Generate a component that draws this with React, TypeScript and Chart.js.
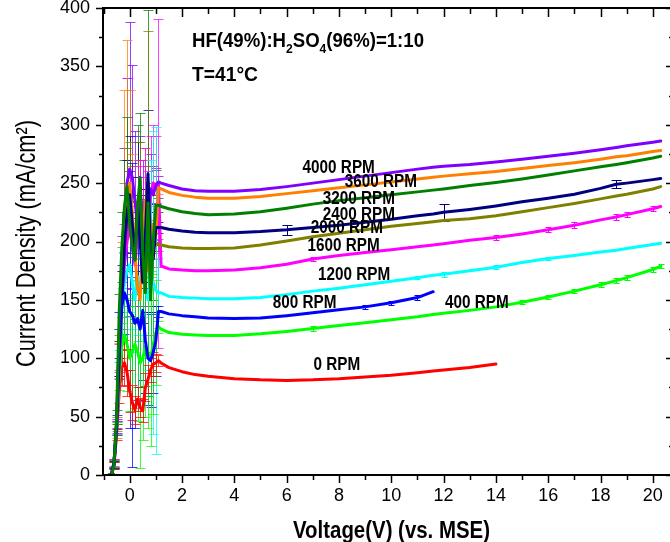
import React, { useEffect, useRef } from "react";
import { Chart, registerables } from "chart.js";

Chart.register(...registerables);

// ---------------- DATA ----------------
const voltage = [
  -0.7, -0.6, -0.5, -0.4, -0.3, -0.2, -0.1, 0, 0.1, 0.2, 0.3, 0.4, 0.5, 0.6, 0.7, 0.8, 0.9, 1.0, 1.1,
  1.2, 1.5, 2, 2.5, 3, 4, 5, 6, 7, 8, 9, 10, 11, 11.6, 12, 13, 14, 15, 16, 17, 18, 18.6, 19, 20, 20.3,
];

const seriesNames = ["4000 RPM", "3600 RPM", "3200 RPM", "2400 RPM", "2000 RPM", "1600 RPM", "1200 RPM", "800 RPM", "400 RPM", "0 RPM"];

const j4000 = [0, 10, 42, 105, 170, 220, 250, 262, 255, 235, 215, 240, 225, 205, 230, 245, 240, 248, 251,
  250, 248, 245, 243.5, 243, 243, 244.5, 247, 250, 253, 256, 259, 262, 263.5, 264.5, 266, 268, 270.5, 273, 275.5, 278.5, 280.5, 282, 285, 286];
const e4000 = [2, 4, 6, 20, 35, 60, 90, 126, 96, 60, 40, 50, 45, 40, 35, 30, 25, 15, 5,
  0, 0, 0, 0, 0, 0, 0, 0, 0, 0, 0, 0, 0, 0, 0, 0, 0, 0, 0, 0, 0, 0, 0, 0, 0];

const j3600 = [0, 9, 38, 98, 160, 215, 240, 250, 225, 190, 160, 150, 200, 235, 175, 200, 215, 205, 246,
  245, 242, 239.5, 238, 237, 237, 238.5, 241, 243.5, 246, 248.5, 251, 253.5, 255, 256, 258, 260, 262.5, 265, 267.5, 270.5, 272.5, 273.5, 277, 278];
const e3600 = [2, 3, 6, 15, 40, 115, 133, 80, 50, 40, 45, 35, 40, 45, 35, 30, 25, 20, 5,
  0, 0, 0, 0, 0, 0, 0, 0, 0, 0, 0, 0, 0, 0, 0, 0, 0, 0, 0, 0, 0, 0, 0, 0, 0];

const j3200 = [0, 8, 50, 140, 195, 230, 247, 215, 195, 184, 230, 255, 190, 156, 233, 150, 200, 231, 231,
  230, 228, 225.5, 224, 223, 223.5, 225.5, 228.5, 232, 235, 237.5, 240, 242.5, 244, 245, 248, 250.5, 253.5, 257, 260.5, 264, 266, 267.5, 271.5, 273];
const e3200 = [2, 3, 6, 15, 30, 40, 60, 45, 40, 50, 70, 55, 45, 80, 165, 60, 50, 30, 6,
  0, 0, 0, 0, 0, 0, 0, 0, 0, 0, 0, 0, 0, 0, 0, 0, 0, 0, 0, 0, 0, 0, 0, 0, 0];

const j2400 = [0, 9, 40, 100, 150, 195, 225, 240, 215, 185, 230, 200, 165, 205, 258, 190, 185, 212, 212,
  212, 210.5, 209, 208, 207.5, 207.5, 208.5, 210, 212, 214, 216.5, 219, 222, 223.5, 225, 227.5, 230.5, 234, 237, 240.5, 245.5, 249, 250, 253, 254];
const e2400 = [2, 3, 6, 15, 30, 45, 45, 50, 40, 40, 55, 40, 35, 40, 55, 50, 40, 20, 5,
  0, 0, 0, 0, 0, 0, 0, 4.5, 0, 0, 0, 0, 0, 0, 7.5, 0, 0, 0, 0, 0, 0, 3.5, 0, 0, 0];

const j2000 = [0, 10, 44, 105, 165, 205, 230, 245, 220, 195, 215, 240, 185, 225, 250, 205, 195, 198, 197,
  197, 195.5, 194.5, 194, 194, 194.5, 197, 200.5, 204, 207, 210, 213, 215.5, 217, 218, 219.5, 222, 225.5, 229, 232.5, 236.5, 239, 240.5, 245, 247];
const e2000 = [2, 3, 6, 15, 30, 45, 50, 40, 45, 40, 55, 45, 40, 45, 130, 60, 45, 20, 5,
  0, 0, 0, 0, 0, 0, 0, 0, 0, 0, 0, 0, 0, 0, 0, 0, 0, 0, 0, 0, 0, 0, 0, 0, 0];

const j1600 = [0, 11, 40, 100, 150, 180, 200, 215, 195, 180, 205, 225, 200, 230, 215, 240, 250, 245, 250,
  179, 176.5, 175.5, 175, 175, 175.5, 177.5, 180.5, 185, 188, 190.5, 193, 195.5, 197, 198, 201, 203.5, 206.5, 210, 214, 218.5, 221, 223, 228, 230];
const e1600 = [2, 3, 6, 12, 25, 35, 40, 45, 40, 50, 60, 45, 55, 50, 45, 50, 50, 45, 141,
  0, 0, 0, 0, 0, 0, 0, 0, 1.5, 0, 0, 0, 0, 0, 0, 0, 2, 0, 2, 2.5, 0, 2.5, 2, 2, 0];

const j1200 = [0, 10, 40, 95, 140, 165, 175, 180, 165, 150, 170, 160, 175, 160, 150, 170, 165, 158, 156,
  156, 153, 152, 151.5, 151, 151, 152, 154.5, 157.5, 160, 163, 166, 169, 171, 172, 175, 178, 182, 185.5, 188, 191, 192.5, 194, 197.5, 198.5];
const e1200 = [2, 3, 5, 12, 20, 30, 35, 40, 40, 45, 50, 45, 40, 60, 60, 100, 130, 140, 30,
  0, 0, 0, 0, 0, 0, 0, 0, 0, 0, 0, 0, 1.5, 0, 2, 0, 1.5, 0, 1.5, 0, 0, 0, 0, 0, 0];

const j800 = [0, 10, 45, 120, 145, 156, 150, 140, 137, 130, 134, 125, 141, 115, 100, 98, 105, 115, 140,
  140, 138, 136.5, 135.5, 134.5, 134, 134.5, 136.5, 139, 141.5, 144, 147.5, 152, 157, null, null, null, null, null, null, null, null, null, null, null];
const e800 = [2, 3, 6, 20, 30, 35, 60, 100, 130, 90, 70, 50, 60, 45, 40, 40, 35, 30, 5,
  0, 0, 0, 0, 0, 0, 0, 0, 0, 0, 1.5, 1.5, 2, 0, 0, 0, 0, 0, 0, 0, 0, 0, 0, 0, 0];

const j400 = [0, 10, 40, 85, 110, 120, 112, 100, 105, 112, 106, 96, 100, 110, 105, 100, 112, 122, 127,
  125, 122, 120.5, 120, 119.5, 119.5, 121, 123, 125.5, 128, 130.5, 133, 135.5, 137.5, 138.5, 141, 144, 148, 152.5, 157.5, 163, 166.5, 169, 176, 179];
const e400 = [2, 3, 5, 12, 20, 30, 40, 45, 50, 55, 60, 90, 70, 60, 65, 75, 60, 45, 5,
  0, 0, 0, 0, 0, 0, 0, 0, 2.5, 0, 0, 0, 0, 0, 0, 0, 0, 1.5, 2, 2, 2, 2, 2, 2, 2];

const j0 = [0, 8, 35, 72, 92, 96, 88, 72, 62, 56, 65, 58, 55, 75, 82, 90, 95, 96, 98,
  96, 92, 88.5, 86, 84.5, 82.5, 81.5, 81, 81.5, 82.5, 84, 85.5, 87.5, 89, 90, 92, 95, null, null, null, null, null, null, null, null];
const e0 = [2, 3, 5, 10, 15, 20, 20, 18, 15, 12, 10, 8, 10, 12, 12, 10, 10, 8, 5,
  0, 0, 0, 0, 0, 0, 0, 0, 0, 0, 0, 0, 0, 0, 0, 0, 0, 5, 0, 0, 0, 0, 0, 0, 0];

const seriesValues = [j4000, j3600, j3200, j2400, j2000, j1600, j1200, j800, j400, j0];
const seriesErrors = [e4000, e3600, e3200, e2400, e2000, e1600, e1200, e800, e400, e0];

// label anchors (data units) for the in-plot series labels
const labelVoltage = [7.99, 9.6, 8.76, 8.76, 8.3, 8.18, 8.58, 6.69, 13.27, 7.92];
const labelCurrent = [263, 251, 236.8, 222.3, 211.6, 195.7, 171.3, 146.9, 146.9, 94.2];

const xTicks = [0, 2, 4, 6, 8, 10, 12, 14, 16, 18, 20];
const yTicks = [0, 50, 100, 150, 200, 250, 300, 350, 400];

const xTitle = "Voltage(V) (vs. MSE)";
const yTitle = "Current Density (mA/cm\u00B2)";
const noteParts = [
  { t: "HF(49%):H", sub: false },
  { t: "2", sub: true },
  { t: "SO", sub: false },
  { t: "4", sub: true },
  { t: "(96%)=1:10", sub: false },
];
const noteTemp = "T=41\u00B0C";

// ---------------- STYLE ----------------
const COLORS = ["#8000ff", "#ff8000", "#008000", "#000080", "#808000", "#ff00ff", "#00ffff", "#0000ff", "#00ff00", "#ff0000"];
const DRAW_ORDER = [4, 3, 0, 2, 5, 6, 7, 1, 8, 9];
const FONT = "'Liberation Sans', Arial, sans-serif";

const errorBarPlugin = {
  id: "errorBars",
  beforeDatasetsDraw(chart: any) {
    const { ctx, chartArea: a, scales } = chart;
    const ys = scales.y;
    ctx.save();
    ctx.beginPath();
    ctx.rect(a.left, a.top, a.right - a.left, a.bottom - a.top);
    ctx.clip();
    chart.data.datasets.forEach((ds: any, i: number) => {
      const errs = ds.errors as number[];
      const meta = chart.getDatasetMeta(i);
      ctx.strokeStyle = ds.borderColor;
      ctx.lineWidth = 1;
      meta.data.forEach((pt: any, j: number) => {
        const e = errs[j];
        const v = ds.data[j].y;
        if (!e || v == null) return;
        ctx.globalAlpha = j < 19 ? 0.75 : 1;
        const cap = e < 3 ? 3 : 5;
        const x = Math.round(pt.x) + 0.5;
        const y1 = Math.round(ys.getPixelForValue(v + e)) + 0.5;
        const y2 = Math.round(ys.getPixelForValue(v - e)) + 0.5;
        ctx.beginPath();
        ctx.moveTo(x, y1);
        ctx.lineTo(x, y2);
        ctx.moveTo(x - cap, y1);
        ctx.lineTo(x + cap, y1);
        ctx.moveTo(x - cap, y2);
        ctx.lineTo(x + cap, y2);
        ctx.stroke();
      });
    });
    ctx.restore();
  },
};

const framePlugin = {
  id: "frame",
  afterDatasetsDraw(chart: any) {
    const { ctx, chartArea: a, scales } = chart;
    const xs = scales.x;
    const ys = scales.y;
    ctx.save();
    ctx.strokeStyle = "#000";
    ctx.lineWidth = 2;
    ctx.strokeRect(a.left, a.top, a.right - a.left, a.bottom - a.top);
    ctx.lineWidth = 1.5;
    ctx.beginPath();
    const xAll: { v: number; major: boolean }[] = [];
    xTicks.forEach((v, i) => {
      xAll.push({ v, major: true });
      if (i < xTicks.length - 1) xAll.push({ v: (v + xTicks[i + 1]) / 2, major: false });
    });
    xAll.push({ v: xTicks[0] - (xTicks[1] - xTicks[0]) / 2, major: false });
    xAll.forEach(({ v, major }) => {
      const px = Math.round(xs.getPixelForValue(v)) + 0.5;
      ctx.moveTo(px, a.bottom);
      ctx.lineTo(px, a.bottom + (major ? 8 : 5));
      ctx.moveTo(px, a.top);
      ctx.lineTo(px, a.top + (major ? 9 : 6));
    });
    const yAll: { v: number; major: boolean }[] = [];
    yTicks.forEach((v, i) => {
      yAll.push({ v, major: true });
      if (i < yTicks.length - 1) yAll.push({ v: (v + yTicks[i + 1]) / 2, major: false });
    });
    yAll.forEach(({ v, major }) => {
      const py = Math.round(ys.getPixelForValue(v)) + 0.5;
      ctx.moveTo(a.left, py);
      ctx.lineTo(a.left - (major ? 7 : 4), py);
      ctx.moveTo(a.right, py);
      ctx.lineTo(a.right - (major ? 7 : 4), py);
    });
    ctx.stroke();
    ctx.restore();
  },
};

const textPlugin = {
  id: "texts",
  afterDraw(chart: any) {
    const { ctx, scales } = chart;
    const xs = scales.x;
    const ys = scales.y;
    ctx.save();
    ctx.fillStyle = "#000";

    ctx.font = `bold 18px ${FONT}`;
    ctx.textAlign = "center";
    ctx.textBaseline = "middle";
    seriesNames.forEach((name, i) => {
      const cx = xs.getPixelForValue(labelVoltage[i]);
      const cy = ys.getPixelForValue(labelCurrent[i]);
      ctx.save();
      ctx.translate(cx, cy);
      ctx.scale(0.85, 1);
      ctx.fillText(name, 0, 0);
      ctx.restore();
    });

    ctx.textAlign = "left";
    ctx.textBaseline = "alphabetic";
    const big = `bold 20px ${FONT}`;
    const small = `bold 13px ${FONT}`;
    let total = 0;
    noteParts.forEach((p) => {
      ctx.font = p.sub ? small : big;
      total += ctx.measureText(p.t).width;
    });
    const sx = 232 / total;
    ctx.save();
    ctx.translate(192, 47);
    ctx.scale(sx, 1);
    let cur = 0;
    noteParts.forEach((p) => {
      ctx.font = p.sub ? small : big;
      ctx.fillText(p.t, cur, p.sub ? 6 : 0);
      cur += ctx.measureText(p.t).width;
    });
    ctx.restore();

    ctx.font = big;
    const tw = ctx.measureText(noteTemp).width;
    ctx.save();
    ctx.translate(192, 81);
    ctx.scale(66 / tw, 1);
    ctx.fillText(noteTemp, 0, 0);
    ctx.restore();

    ctx.font = `bold 24px ${FONT}`;
    ctx.textAlign = "center";
    const xw = ctx.measureText(xTitle).width;
    ctx.save();
    ctx.translate(391.5, 538);
    ctx.scale(197 / xw, 1);
    ctx.fillText(xTitle, 0, 0);
    ctx.restore();

    ctx.font = `28px ${FONT}`;
    const yw = ctx.measureText(yTitle).width;
    ctx.save();
    ctx.translate(35, 243.5);
    ctx.rotate(-Math.PI / 2);
    ctx.scale(247 / yw, 1);
    ctx.fillText(yTitle, 0, 0);
    ctx.restore();

    ctx.restore();
  },
};

export default function App() {
  const ref = useRef<HTMLCanvasElement | null>(null);

  useEffect(() => {
    if (!ref.current) return;
    const datasets = seriesNames.map((name, i) => ({
      label: name,
      data: voltage.map((v, k) => ({ x: v, y: seriesValues[i][k] })),
      errors: seriesErrors[i],
      borderColor: COLORS[i],
      backgroundColor: COLORS[i],
      borderWidth: 3,
      pointRadius: 0,
      tension: 0,
      spanGaps: false,
      borderJoinStyle: "round",
      borderCapStyle: "round",
      order: DRAW_ORDER[i],
    }));

    const chart = new Chart(ref.current, {
      type: "line",
      data: { datasets } as any,
      options: {
        responsive: false,
        animation: false,
        devicePixelRatio: 1,
        layout: { padding: { top: 8, right: 7, left: 0, bottom: 0 } },
        plugins: { legend: { display: false }, tooltip: { enabled: false } },
        scales: {
          x: {
            type: "linear",
            min: -1.02,
            max: 20.77,
            afterBuildTicks: (s: any) => {
              s.ticks = xTicks.map((v) => ({ value: v }));
            },
            afterFit: (s: any) => {
              s.height = 67;
              s.paddingLeft = 0;
              s.paddingRight = 0;
            },
            ticks: {
              autoSkip: false,
              maxRotation: 0,
              padding: 10,
              color: "#000",
              font: { family: FONT, size: 18 },
              callback: (v: any) => String(v),
            },
            grid: { display: false, drawTicks: false },
            border: { display: false },
          },
          y: {
            type: "linear",
            min: 0,
            max: 400,
            afterBuildTicks: (s: any) => {
              s.ticks = yTicks.map((v) => ({ value: v }));
            },
            afterFit: (s: any) => {
              s.width = 103;
              s.paddingTop = 0;
              s.paddingBottom = 0;
            },
            ticks: {
              autoSkip: false,
              padding: 13,
              color: "#000",
              font: { family: FONT, size: 18 },
              callback: (v: any) => String(v),
            },
            grid: { display: false, drawTicks: false },
            border: { display: false },
          },
        },
      } as any,
      plugins: [errorBarPlugin, framePlugin, textPlugin],
    });
    return () => chart.destroy();
  }, []);

  return (
    <div
      style={{
        position: "fixed",
        left: 0,
        top: 0,
        width: 670,
        height: 542,
        overflow: "hidden",
        background: "#fff",
      }}
    >
      <canvas ref={ref} width={680} height={542} style={{ display: "block", width: 680, height: 542 }} />
    </div>
  );
}
